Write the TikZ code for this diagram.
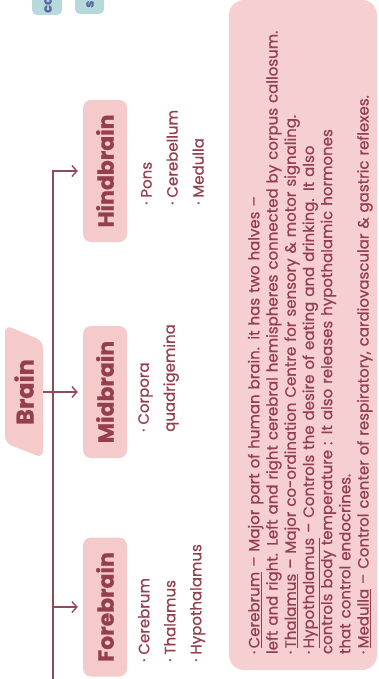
\documentclass[tikz,border=0pt]{standalone}
\usepackage{fontspec}
\setmainfont[FakeBold=0.8]{Poppins}
\usetikzlibrary{calc}
\usetikzlibrary{arrows.meta}
\usetikzlibrary{positioning}
\definecolor{BoxPink}{HTML}{F5CACA}
\definecolor{NotePink}{HTML}{F6D0D0}
\definecolor{DarkRose}{HTML}{943F4E}
\definecolor{LineRose}{HTML}{8F4C57}
\definecolor{PaleTeal}{HTML}{B6D9DB}
\definecolor{SlateBlue}{HTML}{5A68A8}
\tikzset{
  part/.style={rotate=90, fill=BoxPink, rounded corners=8pt, minimum height=44pt,
    inner sep=0pt, text=DarkRose, font=\fontsize{22}{22}\selectfont\bfseries},
  items/.style={rotate=90, anchor=north west, align=left, inner sep=0pt,
    text=DarkRose, font=\fontsize{15}{26}\selectfont},
  notes/.style={rotate=90, fill=NotePink, rounded corners=15pt, text width=638pt,
    align=left, minimum height=148pt, inner xsep=16pt, text=DarkRose,
    font=\fontsize{15}{18.2}\selectfont},
  tab/.style={rotate=90, anchor=west, inner sep=0pt, text=SlateBlue,
    font=\fontsize{13}{13}\selectfont\bfseries},
  link/.style={draw=LineRose, line width=1.4pt,
    -{Straight Barb[length=5pt,width=11pt]}, shorten >=5pt}
}
\begin{document}
\begin{tikzpicture}[x=1pt, y=-1pt]
  \useasboundingbox (0,0) rectangle (379,679);
  \clip (0,0) rectangle (379,679);

  % tabs cut off at the top
  \fill[PaleTeal, rounded corners=5pt] (32,-20) rectangle (62,15);
  \fill[PaleTeal, rounded corners=5pt] (75,-20) rectangle (104,14);
  \node[tab] (tabA) at (48,13) {co};
  \node[tab] (tabB) at (90,8) {s};

  % root
  \fill[BoxPink, rounded corners=7pt] (5,325) -- (43,341) -- (43,458) -- (5,443) -- cycle;
  \node[rotate=90, minimum width=120pt, minimum height=38pt, inner sep=0pt,
    text=DarkRose, font=\fontsize{24}{24}\selectfont\bfseries] (brain) at (24,392) {Brain};

  \node[part, minimum width=142pt] (hind) at (105,171) {Hindbrain};
  \node[part, minimum width=132pt] (mid) at (105,392) {Midbrain};
  \node[part, minimum width=139pt] (fore) at (105,607) {Forebrain};

  \coordinate (barEnd) at (53,690);
  \draw[link] (barEnd) |- (hind.north);
  \draw[link] (barEnd |- fore.north) -- (fore.north);
  \draw[link] (brain.south) -- (mid.north);

  \node[items] (foreList) at (138,662) {· Cerebrum\\· Thalamus\\· Hypothalamus};
  \node[items] (midList) at (138,432) {· Corpora\\quadrigemina};
  \node[items] (hindList) at (141,205) {· Pons\\· Cerebellum\\· Medulla};

  \node[notes] (notes) at (303,335) {%
    \rule{0pt}{26pt}·\,\underline{Cerebrum} -- Major part of human brain. it has two halves --\\
    left and right. Left and right cerebral hemispheres connected by corpus callosum.\\
    ·\,\underline{Thalamus} -- Major co-ordination Centre for sensory \& motor signaling.\\
    ·\,\underline{Hypothalamus} -- Controls the desire of eating and drinking. It also\\
    controls body temperature : It also releases hypothalamic hormones\\
    that control endocrines.\\
    ·\,\underline{Medulla} -- Control center of respiratory, cardiovascular \& gastric reflexes.};
\end{tikzpicture}
\end{document}
